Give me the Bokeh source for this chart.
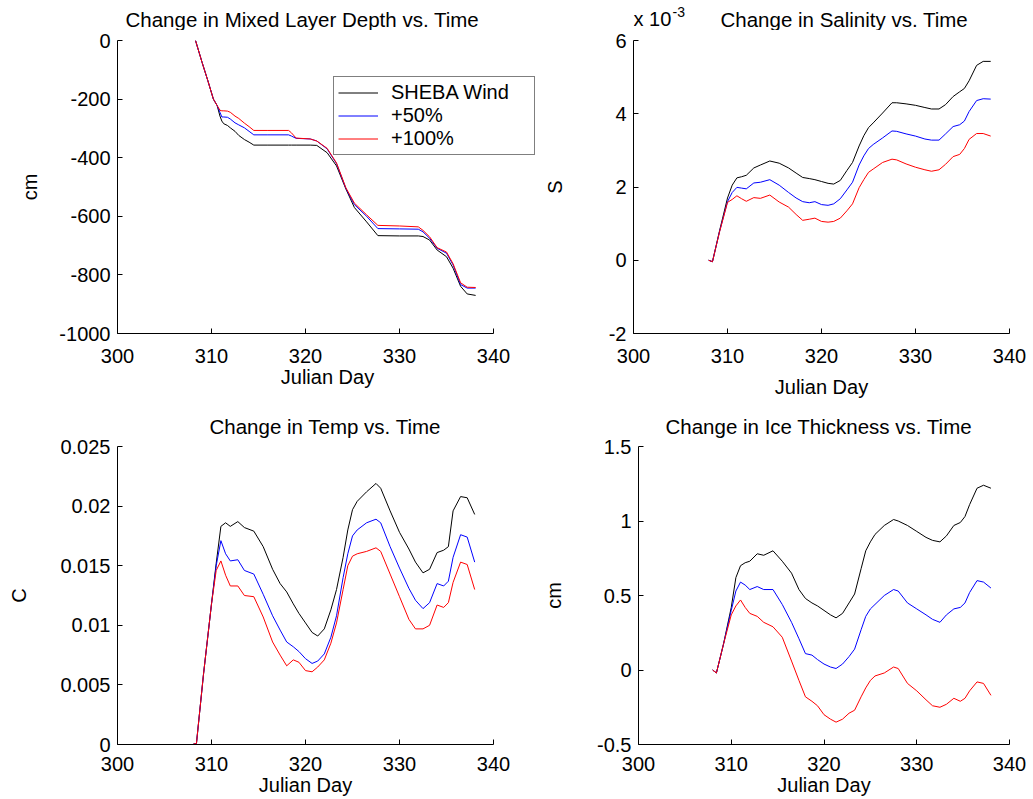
import numpy as np
from bokeh.plotting import figure
from bokeh.layouts import column, row
from bokeh.models import (Range1d, FixedTicker, Label, Legend, LegendItem,
                          CustomJSTickFormatter)
from bokeh.embed import file_html
from bokeh.resources import INLINE

FONT = "Liberation Sans"

# ---------------- data ----------------
series_names = ["SHEBA Wind", "+50%", "+100%"]
series_colors = ["#000000", "#0000ff", "#ff0000"]
x_ticks = [300, 310, 320, 330, 340]

# Mixed layer depth (cm)
days_mld = [308.3, 309.0, 309.6, 310.2, 310.6, 310.9, 311.1, 311.3, 311.7, 312.0,
            312.5, 312.9, 313.5, 314.0, 314.5, 316.0, 318.2, 318.5, 319.0, 320.5,
            321.2, 322.3, 323.3, 324.3, 325.2, 326.5, 327.7, 330.0, 332.0, 332.5,
            333.2, 334.0, 335.0, 335.7, 336.5, 337.2, 338.1]
mld_sheba = [0, -75, -136, -200, -222, -258, -275, -284, -290, -298,
             -310, -324, -338, -347, -357, -357, -357, -357, -357, -357,
             -358, -383, -428, -507, -570, -619, -666, -667, -667, -669,
             -681, -715, -738, -777, -839, -865, -870]
mld_50 = [0, -75, -136, -200, -222, -245, -261, -261, -262, -268,
          -281, -288, -298, -310, -322, -322, -322, -326, -334, -336,
          -343, -370, -420, -505, -560, -600, -642, -643, -644, -653,
          -675, -709, -726, -766, -833, -845, -845]
mld_100 = [0, -75, -136, -200, -222, -238, -240, -240, -241, -245,
           -258, -266, -282, -294, -307, -307, -307, -315, -333, -336,
           -343, -368, -418, -503, -555, -595, -631, -633, -636, -648,
           -670, -707, -722, -762, -827, -842, -843]

# common day grid for the other three panels
days = [308.0, 308.4, 309.15, 310.0, 310.5, 311.0, 311.5, 312.0, 312.8, 313.5,
        314.5, 315.5, 316.5, 317.3, 318.0, 318.7, 319.3, 320.0, 320.7, 321.3,
        322.0, 322.7, 323.3, 324.0, 324.5, 325.0, 325.5, 326.5, 327.5, 328.0,
        329.0, 330.0, 331.0, 331.7, 332.5, 333.2, 334.0, 334.7, 335.2, 335.7,
        336.5, 337.2, 338.0]

# Salinity change (units of 1e-3)
sal_sheba = [0, -0.04, 0.8, 1.7, 2.05, 2.25, 2.28, 2.32, 2.52, 2.6,
             2.71, 2.65, 2.52, 2.38, 2.26, 2.23, 2.2, 2.15, 2.1, 2.08,
             2.18, 2.45, 2.67, 3.12, 3.4, 3.62, 3.75, 4.02, 4.3, 4.3,
             4.27, 4.23, 4.17, 4.13, 4.13, 4.25, 4.47, 4.6, 4.69, 4.9,
             5.32, 5.43, 5.43]
sal_50 = [0, -0.04, 0.78, 1.6, 1.85, 1.99, 1.97, 1.95, 2.11, 2.13,
          2.2, 2.05, 1.85, 1.7, 1.6, 1.57, 1.6, 1.52, 1.5, 1.54,
          1.68, 1.92, 2.13, 2.6, 2.85, 3.05, 3.16, 3.34, 3.53, 3.52,
          3.45, 3.39, 3.31, 3.28, 3.28, 3.45, 3.65, 3.7, 3.8, 4.06,
          4.36, 4.41, 4.4]
sal_100 = [0, -0.04, 0.77, 1.58, 1.66, 1.76, 1.68, 1.61, 1.71, 1.69,
           1.78, 1.59, 1.45, 1.25, 1.09, 1.12, 1.15, 1.06, 1.04, 1.06,
           1.15, 1.35, 1.54, 1.98, 2.2, 2.4, 2.49, 2.67, 2.76, 2.74,
           2.63, 2.54, 2.47, 2.43, 2.47, 2.62, 2.83, 2.89, 3.05, 3.3,
           3.46, 3.46, 3.39]

# Temperature change (C)
tmp_sheba = [0, 0.0001, 0.0059, 0.0118, 0.0152, 0.0183, 0.0186, 0.0183, 0.0187, 0.0182,
             0.0179, 0.0166, 0.0147, 0.0135, 0.0128, 0.0118, 0.0110, 0.0102, 0.0094, 0.0091,
             0.0097, 0.0113, 0.0130, 0.0157, 0.0180, 0.0197, 0.0204, 0.0212, 0.0219, 0.0215,
             0.0196, 0.0178, 0.0164, 0.0153, 0.0144, 0.0147, 0.0161, 0.0163, 0.0166, 0.0196,
             0.0208, 0.0207, 0.0193]
tmp_50 = [0, 0.0001, 0.0059, 0.0118, 0.0150, 0.0171, 0.0160, 0.0154, 0.0155, 0.0146,
          0.0143, 0.0126, 0.0108, 0.0096, 0.0086, 0.0082, 0.0078, 0.0072, 0.0068, 0.0070,
          0.0076, 0.0090, 0.0108, 0.0140, 0.0160, 0.0175, 0.0180, 0.0186, 0.0189, 0.0186,
          0.0166, 0.0148, 0.0131, 0.0121, 0.0114, 0.0119, 0.0135, 0.0133, 0.0137, 0.0157,
          0.0176, 0.0174, 0.0153]
tmp_100 = [0, 0.0001, 0.0059, 0.0118, 0.0146, 0.0154, 0.0142, 0.0133, 0.0133, 0.0125,
           0.0124, 0.0107, 0.0086, 0.0075, 0.0066, 0.0071, 0.0069, 0.0062, 0.0061, 0.0065,
           0.0071, 0.0085, 0.0102, 0.0130, 0.0150, 0.0158, 0.0160, 0.0162, 0.0165, 0.0162,
           0.0143, 0.0124, 0.0105, 0.0097, 0.0097, 0.0100, 0.0117, 0.0115, 0.0119, 0.0136,
           0.0153, 0.0151, 0.0130]

# Ice thickness change (cm)
ice_sheba = [0, -0.02, 0.17, 0.42, 0.62, 0.70, 0.72, 0.73, 0.78, 0.77,
             0.80, 0.73, 0.65, 0.54, 0.48, 0.45, 0.43, 0.40, 0.37, 0.35,
             0.38, 0.45, 0.51, 0.68, 0.80, 0.86, 0.91, 0.97, 1.01, 1.00,
             0.97, 0.93, 0.89, 0.87, 0.86, 0.90, 0.97, 0.99, 1.03, 1.11,
             1.22, 1.24, 1.22]
ice_50 = [0, -0.02, 0.17, 0.40, 0.53, 0.59, 0.57, 0.54, 0.56, 0.54,
          0.54, 0.44, 0.32, 0.21, 0.11, 0.10, 0.07, 0.04, 0.02, 0.01,
          0.04, 0.09, 0.14, 0.27, 0.36, 0.41, 0.44, 0.50, 0.54, 0.53,
          0.45, 0.41, 0.37, 0.34, 0.32, 0.37, 0.41, 0.42, 0.45, 0.52,
          0.60, 0.59, 0.55]
ice_100 = [0, -0.02, 0.17, 0.37, 0.43, 0.47, 0.42, 0.38, 0.36, 0.32,
           0.29, 0.22, 0.06, -0.07, -0.18, -0.21, -0.24, -0.30, -0.33, -0.35,
           -0.33, -0.29, -0.27, -0.18, -0.12, -0.07, -0.04, -0.02, 0.02, 0.01,
           -0.09, -0.14, -0.20, -0.24, -0.25, -0.23, -0.19, -0.21, -0.19, -0.14,
           -0.08, -0.09, -0.17]

# ---------------- helpers ----------------
plain_fmt = CustomJSTickFormatter(code="return tick.toString();")
strip_fmt = CustomJSTickFormatter(code="""
    let s = tick.toFixed(3);
    s = s.replace(/0+$/, '').replace(/\\.$/, '');
    if (s === '-0') s = '0';
    return s;
""")

FRAME_W = 376  # px width of one axes box (300..340)
W_L, W_R = 540, 493
HEAD_H = 30     # header strip holding the top titles
TOP_B = 10      # border above the top-row axes (room for the top tick label)


def make_fig(width, height, bl, br, bt, bb, xr, yr, yticks, ylabel,
             ylab_standoff, xlab_standoff, xtick_standoff, yfmt,
             title=None, title_offset=0):
    p = figure(width=width, height=height, title=title,
               x_range=Range1d(*xr), y_range=Range1d(*yr),
               output_backend="svg", toolbar_location=None,
               min_border_left=bl, min_border_right=br,
               min_border_top=bt, min_border_bottom=bb)
    if title is not None:
        p.title.align = "left"
        p.title.offset = title_offset
        p.title.text_font = FONT
        p.title.text_font_size = "20.5px"
        p.title.text_font_style = "normal"
        p.title.text_color = "black"
        p.title.standoff = 17
    p.outline_line_color = None
    p.grid.visible = False
    p.background_fill_color = "white"
    p.border_fill_color = "white"
    for ax in (p.xaxis[0], p.yaxis[0]):
        ax.major_tick_in = 5
        ax.major_tick_out = 0
        ax.minor_tick_line_color = None
        ax.axis_line_color = "black"
        ax.major_tick_line_color = "black"
        ax.major_label_text_font = FONT
        ax.major_label_text_font_size = "20px"
        ax.major_label_text_color = "black"
        ax.axis_label_text_font = FONT
        ax.axis_label_text_font_size = "20px"
        ax.axis_label_text_font_style = "normal"
        ax.axis_label_text_color = "black"
    p.xaxis.major_label_standoff = xtick_standoff
    p.yaxis.major_label_standoff = 7
    p.xaxis.bounds = (300, 340)
    p.xaxis.ticker = FixedTicker(ticks=x_ticks)
    p.yaxis.ticker = FixedTicker(ticks=yticks)
    p.xaxis.formatter = plain_fmt
    p.yaxis.formatter = yfmt
    p.xaxis.axis_label = "Julian Day"
    p.yaxis.axis_label = ylabel
    p.xaxis.axis_label_standoff = xlab_standoff
    p.yaxis.axis_label_standoff = ylab_standoff
    return p


def make_header(width, bl, br):
    h = figure(width=width, height=HEAD_H, title=None,
               x_range=Range1d(0, 1), y_range=Range1d(0, 1),
               x_axis_type=None, y_axis_type=None,
               output_backend="svg", toolbar_location=None,
               min_border_left=bl, min_border_right=br,
               min_border_top=0, min_border_bottom=0)
    h.outline_line_color = None
    h.grid.visible = False
    h.background_fill_color = "white"
    h.border_fill_color = "white"
    return h


def head_label(h, x, y_center, text, size):
    # y_center is measured from the top of the page (header bottom = HEAD_H)
    h.add_layout(Label(x=x, y=HEAD_H - y_center, x_units="screen", y_units="screen",
                       text=text, text_font=FONT, text_font_size=size,
                       text_baseline="middle", text_color="black"))


def add_lines(p, x, ys):
    rs = []
    for y, c in zip(ys, series_colors):
        rs.append(p.line(x, y, line_color=c, line_width=1))
    return rs


# ---------------- top row ----------------
H_TOP = 400 - HEAD_H
TL_FW = 420   # frame widened to the right so the legend box fits; axis stops at 340
h1 = make_header(W_L, 117, W_L - 117 - TL_FW)
head_label(h1, 8, 18.5, "Change in Mixed Layer Depth vs. Time", "20.5px")

p1 = make_fig(W_L, H_TOP, 117, W_L - 117 - TL_FW, TOP_B, H_TOP - TOP_B - 296,
              (300, 300 + 40 * TL_FW / FRAME_W), (-1000, 0),
              [-1000, -800, -600, -400, -200, 0], "cm", 15, 0, 15, plain_fmt)
r1 = add_lines(p1, days_mld, [mld_sheba, mld_50, mld_100])
legend = Legend(items=[LegendItem(label=n, renderers=[r]) for n, r in zip(series_names, r1)],
                location=(216, 178), margin=0, padding=4, spacing=0,
                glyph_width=40, glyph_height=23, label_height=23, label_width=139,
                label_standoff=13, label_text_font=FONT, label_text_font_size="20px",
                label_text_color="black", border_line_color="black", border_line_width=1,
                background_fill_color="white", background_fill_alpha=1.0)
p1.add_layout(legend, "center")

TR_BL = 633 - W_L
h2 = make_header(W_R, TR_BL, W_R - TR_BL - FRAME_W)
head_label(h2, 87, 18.5, "Change in Salinity vs. Time", "20.5px")
head_label(h2, 0, 18.5, "x 10", "20px")
head_label(h2, 39, 11, "-3", "14px")

p2 = make_fig(W_R, H_TOP, TR_BL, W_R - TR_BL - FRAME_W, TOP_B, H_TOP - TOP_B - 296,
              (300, 340), (-2, 6),
              [-2, 0, 2, 4, 6], "S", 40, 10, 15, plain_fmt)
add_lines(p2, days, [sal_sheba, sal_50, sal_100])

# ---------------- bottom row ----------------
H_B = 399
p3 = make_fig(W_L, H_B, 117, W_L - 117 - FRAME_W, 46, H_B - 46 - 298,
              (300, 340), (0, 0.025),
              [0, 0.005, 0.01, 0.015, 0.02, 0.025], "C", 27, 0, 12, strip_fmt,
              title="Change in Temp vs. Time", title_offset=92)
add_lines(p3, days, [tmp_sheba, tmp_50, tmp_100])

p4 = make_fig(W_R, H_B, TR_BL, W_R - TR_BL - FRAME_W, 46, H_B - 46 - 298,
              (300, 340), (-0.5, 1.5),
              [-0.5, 0, 0.5, 1, 1.5], "cm", 29, 0, 12, strip_fmt,
              title="Change in Ice Thickness vs. Time", title_offset=27)
add_lines(p4, days, [ice_sheba, ice_50, ice_100])

layout = column(row(h1, h2), row(p1, p2), row(p3, p4))

open("out.html", "w").write(file_html(layout, INLINE))
